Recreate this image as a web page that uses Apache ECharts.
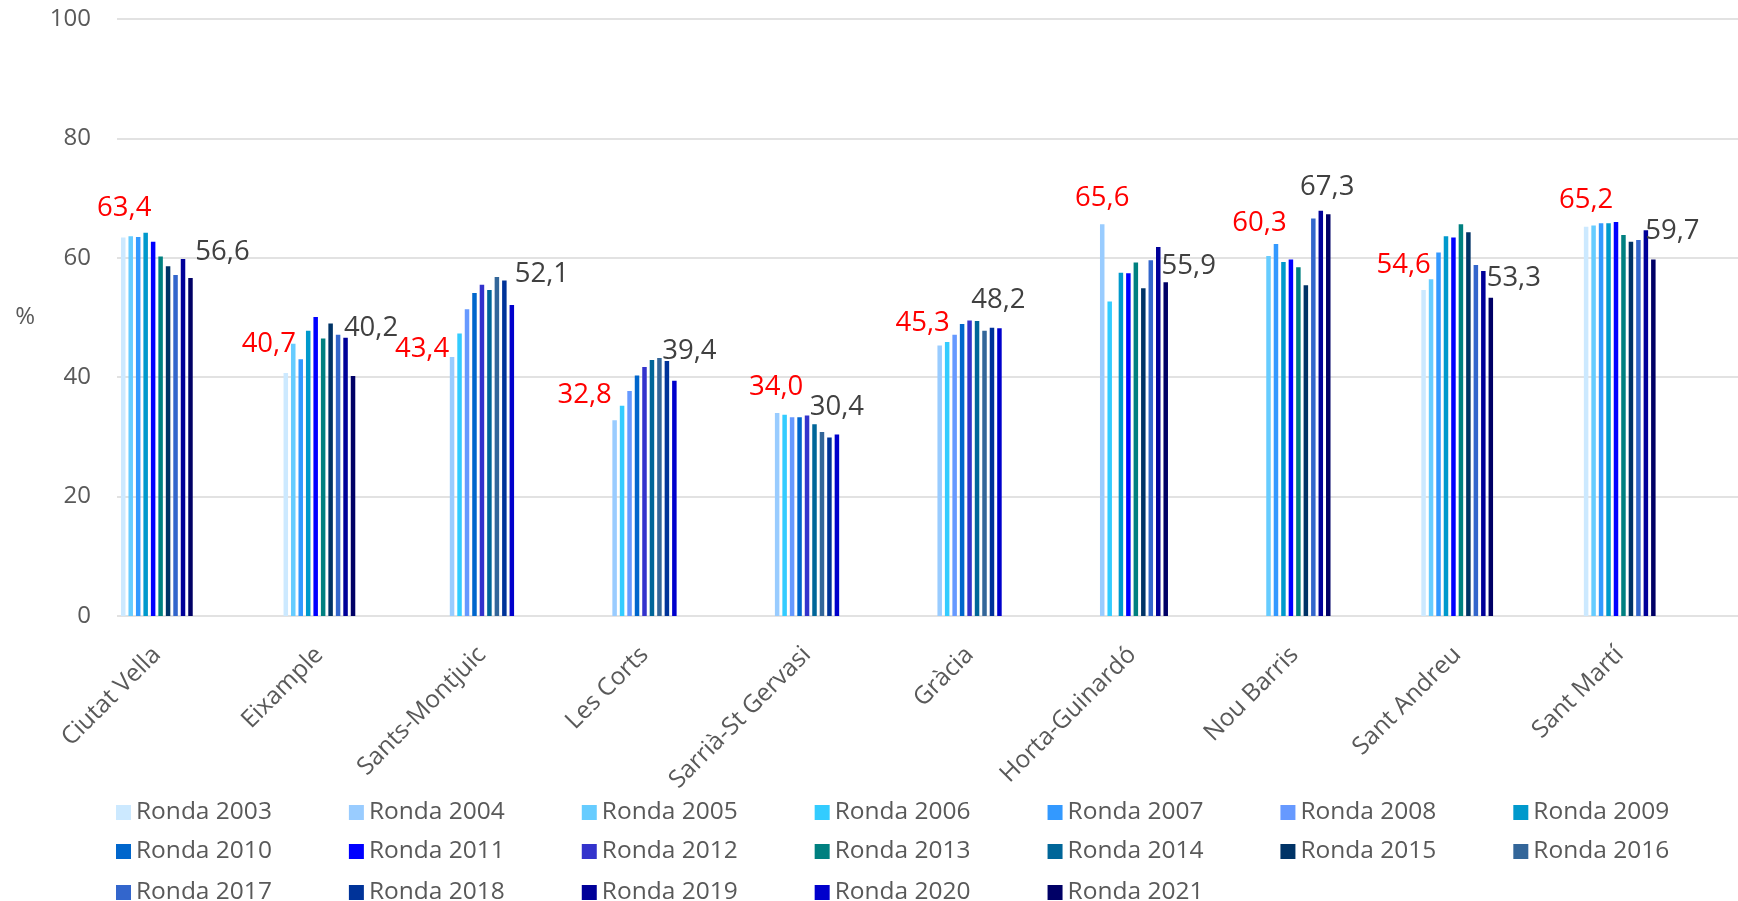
<!DOCTYPE html>
<html>
<head>
<meta charset="utf-8">
<script src="https://cdn.jsdelivr.net/npm/echarts@6/dist/echarts.min.js"></script>
<style>
html,body{margin:0;padding:0;background:#fff;}
#chart{width:1738px;height:901px;}
</style>
</head>
<body>
<div id="chart"></div>
<script>
// Categories (districts)
const categories = ['Ciutat Vella','Eixample','Sants-Montjuic','Les Corts','Sarrià-St Gervasi','Gràcia','Horta-Guinardó','Nou Barris','Sant Andreu','Sant Martí'];
// Series names (survey rounds)
const rounds = ['Ronda 2003','Ronda 2004','Ronda 2005','Ronda 2006','Ronda 2007','Ronda 2008','Ronda 2009','Ronda 2010','Ronda 2011','Ronda 2012','Ronda 2013','Ronda 2014','Ronda 2015','Ronda 2016','Ronda 2017','Ronda 2018','Ronda 2019','Ronda 2020','Ronda 2021'];
// Values per district, one entry per round (null = no survey that round)
const ciutatVella   = [63.4,null,63.6,null,63.5,null,64.2,null,62.7,null,60.2,null,58.6,null,57.1,null,59.8,null,56.6];
const eixample      = [40.7,null,45.6,null,43.0,null,47.8,null,50.1,null,46.5,null,49.0,null,47.1,null,46.6,null,40.2];
const santsMontjuic = [null,43.4,null,47.3,null,51.4,null,54.1,null,55.5,null,54.6,null,56.8,null,56.2,null,52.1,null];
const lesCorts      = [null,32.8,null,35.2,null,37.7,null,40.3,null,41.7,null,42.9,null,43.2,null,42.7,null,39.4,null];
const sarriaStGervasi = [null,34.0,null,33.7,null,33.3,null,33.3,null,33.6,null,32.1,null,30.8,null,29.9,null,30.4,null];
const gracia        = [null,45.3,null,45.9,null,47.1,null,48.9,null,49.5,null,49.4,null,47.8,null,48.3,null,48.2,null];
const hortaGuinardo = [null,65.6,null,52.7,null,null,57.5,null,57.4,null,59.2,null,54.9,null,59.6,null,61.8,null,55.9];
const nouBarris     = [null,null,60.3,null,62.3,null,59.3,null,59.7,null,58.4,null,55.4,null,66.6,null,67.9,null,67.3];
const santAndreu    = [54.6,null,56.4,null,60.9,null,63.6,null,63.4,null,65.6,null,64.3,null,58.8,null,57.8,null,53.3];
const santMarti     = [65.2,null,65.4,null,65.8,null,65.8,null,66.0,null,63.8,null,62.7,null,63.0,null,64.6,null,59.7];
const yTicks = [0,20,40,60,80,100];

const districts = [ciutatVella,eixample,santsMontjuic,lesCorts,sarriaStGervasi,gracia,hortaGuinardo,nouBarris,santAndreu,santMarti];

// styles
const colors = ['#CCE9FF','#99CCFF','#66CCFF','#33CCFF','#3399FF','#6699FF','#0099CC','#0066CC','#0000FF','#3333CC','#008080','#006699','#003366','#336699','#3366CC','#003399','#000099','#0000CC','#000066'];
const firstLabelOffsets = [[1,-15],[-17,-15],[-30,6],[-30,-11],[-1,-12],[-17,-8],[0,-12],[-9,-19],[-20,-11],[0,-13]];
const lastLabelOffsets  = [[32,-12],[18,-34],[30,-17],[15,-16],[0,-13],[-1,-14],[23,-2],[-1,-13],[23,-6],[19,-14]];

const FONT = "'Open Sans', 'Noto Sans', sans-serif";
const fmt = v => v.toFixed(1).replace('.', ',');

const firstIdx = districts.map(d => d.findIndex(v => v !== null));
const lastIdx = districts.map(d => { for (let i = d.length - 1; i >= 0; i--) if (d[i] !== null) return i; return -1; });

const series = rounds.map((name, si) => ({
  name,
  type: 'bar',
  xAxisIndex: 0,
  yAxisIndex: 0,
  barWidth: 4.5,
  barGap: '-17%',
  itemStyle: { color: colors[si] },
  emphasis: { disabled: true },
  data: districts.map((d, di) => {
    const v = d[si];
    if (v === null) return null;
    const item = { value: v };
    if (si === firstIdx[di] || si === lastIdx[di]) {
      const isFirst = si === firstIdx[di];
      item.label = {
        show: true,
        position: 'top',
        distance: 0,
        offset: isFirst ? firstLabelOffsets[di] : lastLabelOffsets[di],
        formatter: p => fmt(p.value),
        color: isFirst ? '#FF0000' : '#404040',
        fontSize: 27.5,
        fontFamily: FONT
      };
    }
    return item;
  })
}));

const legendRows = [rounds.slice(0,7), rounds.slice(7,14), rounds.slice(14)];
const legendTops = [800, 839, 880];

const chart = echarts.init(document.getElementById('chart'), null, { renderer: 'canvas' });
chart.setOption({
  animation: false,
  backgroundColor: '#ffffff',
  color: colors,
  textStyle: { fontFamily: FONT },
  grid: [
    { left: 75.6, right: 37, top: 19, bottom: 285, containLabel: false },
    { left: 117, right: 0, top: 19, bottom: 285, containLabel: false }
  ],
  xAxis: [
    {
      type: 'category', gridIndex: 0, data: categories,
      axisLine: { show: false }, axisTick: { show: false },
      axisLabel: { rotate: 45, margin: 35, fontSize: 24.5, color: '#595959', fontFamily: FONT, interval: 0 }
    },
    { type: 'category', gridIndex: 1, data: [''], show: false }
  ],
  yAxis: [
    { type: 'value', gridIndex: 0, min: 0, max: 100, interval: 20, show: false, splitLine: { show: false } },
    {
      type: 'value', gridIndex: 1, min: 0, max: 100, interval: 20,
      axisLine: { show: false }, axisTick: { show: false },
      axisLabel: { margin: 26, fontSize: 24, color: '#595959', fontFamily: FONT, formatter: v => yTicks.includes(v) ? String(v) : '' },
      splitLine: { lineStyle: { color: '#D9D9D9', width: 1.5 } },
      name: '%', nameLocation: 'middle', nameRotate: 0, nameGap: 82,
      nameTextStyle: { fontSize: 24, color: '#595959', fontFamily: FONT, padding: [16, 0, 0, 0] }
    }
  ],
  legend: legendRows.map((row, ri) => ({
    data: row,
    left: 116,
    top: legendTops[ri],
    orient: 'horizontal',
    padding: 0,
    icon: 'rect',
    itemWidth: 15,
    itemHeight: 15,
    itemGap: 77,
    selectedMode: false,
    textStyle: { fontSize: 24.5, color: '#595959', fontFamily: FONT }
  })),
  series
});
</script>
</body>
</html>
